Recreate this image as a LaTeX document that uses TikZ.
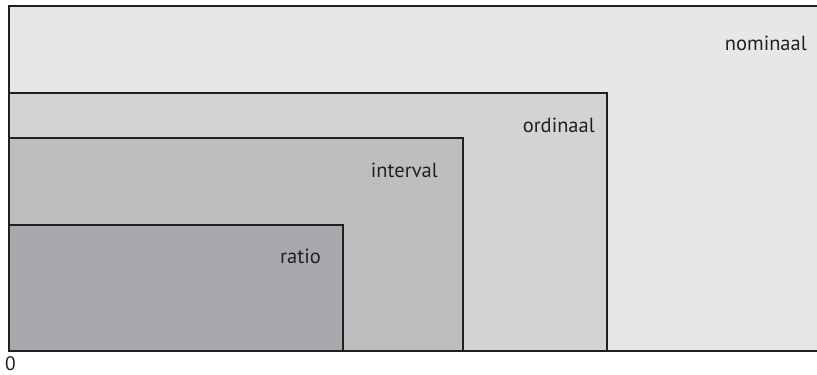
\documentclass[tikz,border=0pt]{standalone}
\usepackage{fontspec}
\setmainfont{PT Sans}
\definecolor{edge}{HTML}{231F20}
\definecolor{nomfill}{HTML}{E6E7E8}
\definecolor{ordfill}{HTML}{D1D3D4}
\definecolor{intfill}{HTML}{BCBEC0}
\definecolor{ratfill}{HTML}{A7A9AC}
\definecolor{labeltext}{HTML}{231F20}
\tikzset{
  levelbox/.style={draw=edge, line width=2pt},
  levellabel/.style={anchor=base east, inner sep=0pt, text=labeltext,
    font=\fontsize{20.5}{24}\selectfont},
}
\begin{document}
\begin{tikzpicture}[x=1pt, y=-1pt]
  \useasboundingbox (0,0) rectangle (817,375);
  \clip (0,0) rectangle (817,375);
  % nested measurement levels, all sharing the origin at bottom left
  \draw[levelbox, fill=nomfill] (9,6) rectangle (830,351);
  \draw[levelbox, fill=ordfill] (9,93) rectangle (607,351);
  \draw[levelbox, fill=intfill] (9,138) rectangle (463,351);
  \draw[levelbox, fill=ratfill] (9,225) rectangle (343,351);
  % level names
  \node[levellabel] (nominaal) at (807,50) {nominaal};
  \node[levellabel] (ordinaal) at (595,132) {ordinaal};
  \node[levellabel] (interval) at (438,177) {interval};
  \node[levellabel] (ratio) at (321,263) {ratio};
  % origin
  \node[anchor=base west, inner sep=0pt, text=labeltext,
    font=\fontsize{19.5}{22}\selectfont] (origin) at (5,370) {0};
\end{tikzpicture}
\end{document}
